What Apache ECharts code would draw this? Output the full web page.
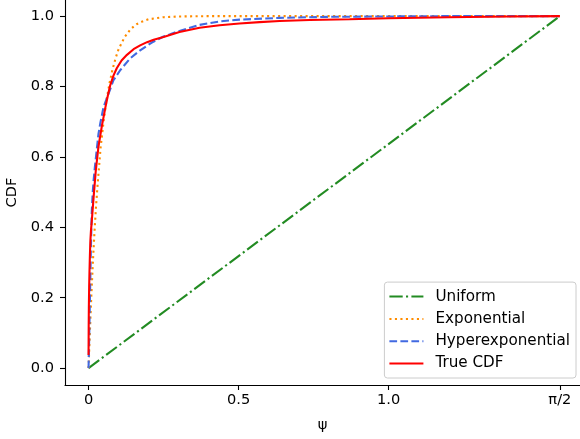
<!DOCTYPE html>
<html>
<head>
<meta charset="utf-8">
<script src="https://cdn.jsdelivr.net/npm/echarts@6/dist/echarts.min.js"></script>
<style>html,body{margin:0;padding:0;background:#fff;}#c{width:580px;height:439px;}</style>
</head>
<body>
<div id="c"></div>
<script>
var seriesNames = ['Uniform', 'Exponential', 'Hyperexponential', 'True CDF'];

var uniformX = [0, 1.5708];
var uniformY = [0, 1.0];

var expX = [0, 0.0025, 0.005, 0.0075, 0.01, 0.015, 0.02, 0.025, 0.03, 0.04, 0.05, 0.06, 0.07, 0.08, 0.09, 0.1, 0.12, 0.14, 0.16, 0.18, 0.2, 0.25, 0.3, 0.4, 0.6, 0.8, 1.0, 1.2, 1.4, 1.5708];
var expY = [0, 0.06, 0.115, 0.17, 0.22, 0.31, 0.39, 0.46, 0.52, 0.625, 0.70, 0.762, 0.81, 0.849, 0.88, 0.906, 0.940, 0.963, 0.977, 0.985, 0.991, 0.997, 0.999, 1.0, 1.0, 1.0, 1.0, 1.0, 1.0, 1.0];

var hypX = [0, 0.002, 0.004, 0.006, 0.008, 0.011, 0.014, 0.017, 0.021, 0.026, 0.033, 0.039, 0.05, 0.0667, 0.083, 0.106, 0.139, 0.172, 0.211, 0.25, 0.27, 0.303, 0.37, 0.437, 0.503, 0.637, 0.8, 1.0, 1.2, 1.5708];
var hypY = [0, 0.08, 0.17, 0.26, 0.35, 0.45, 0.50, 0.535, 0.57, 0.61, 0.665, 0.695, 0.742, 0.78, 0.818, 0.847, 0.88, 0.903, 0.925, 0.942, 0.948, 0.958, 0.975, 0.985, 0.99, 0.995, 0.998, 0.999, 1.0, 1.0];

var trueX = [0, 0.0005, 0.001, 0.002, 0.003, 0.0045, 0.006, 0.008, 0.011, 0.017, 0.024, 0.033, 0.044, 0.056, 0.064, 0.072, 0.083, 0.094, 0.11, 0.128, 0.15, 0.172, 0.195, 0.217, 0.25, 0.303, 0.37, 0.437, 0.503, 0.57, 0.637, 0.737, 0.87, 1.0, 1.2, 1.4, 1.5708];
var trueY = [0.037, 0.12, 0.17, 0.23, 0.27, 0.32, 0.36, 0.39, 0.42, 0.487, 0.56, 0.629, 0.686, 0.74, 0.773, 0.803, 0.831, 0.852, 0.874, 0.89, 0.906, 0.917, 0.926, 0.933, 0.941, 0.955, 0.967, 0.974, 0.979, 0.983, 0.986, 0.989, 0.991, 0.994, 0.997, 0.999, 1.0];

var xTickValues = [0, 0.5, 1.0, Math.PI / 2];
var xTickLabels = ['0', '0.5', '1.0', 'π/2'];
var yTickValues = [0, 0.2, 0.4, 0.6, 0.8, 1.0];
var yTickLabels = ['0.0', '0.2', '0.4', '0.6', '0.8', '1.0'];

function zip(xs, ys) { return xs.map(function (x, i) { return [x, ys[i]]; }); }

var FONT = 'DejaVu Sans';
var FS = 14.6;
var LFS = 15.2;

var chart = echarts.init(document.getElementById('c'), null, { renderer: 'canvas' });

function mkSeries(name, xs, ys, color, type) {
  return {
    name: name, type: 'line', data: zip(xs, ys),
    symbol: 'none', showSymbol: false, smooth: false, animation: false,
    lineStyle: { color: color, width: 2.1, type: type, cap: 'butt' },
    itemStyle: { color: color }
  };
}

function lookup(vals, labels) {
  return function (v) {
    for (var i = 0; i < vals.length; i++) if (Math.abs(v - vals[i]) < 1e-6) return labels[i];
    return '';
  };
}

chart.setOption({
  animation: false,
  grid: { left: 65, right: 0, top: 0, bottom: 54, containLabel: false, outerBoundsMode: 'none' },
  xAxis: {
    type: 'value', min: -0.0785, max: 1.638,
    name: 'ψ', nameLocation: 'middle', nameGap: 33,
    nameTextStyle: { fontFamily: FONT, fontSize: FS, color: '#000' },
    axisLine: { show: true, onZero: false, lineStyle: { color: '#000', width: 1.1 } },
    axisTick: { show: true, length: 5, lineStyle: { color: '#000', width: 1.1 }, customValues: xTickValues },
    axisLabel: {
      fontFamily: FONT, fontSize: FS, color: '#000', margin: 8,
      customValues: xTickValues, formatter: lookup(xTickValues, xTickLabels)
    },
    splitLine: { show: false }
  },
  yAxis: {
    type: 'value', min: -0.048, max: 1.0458,
    name: 'CDF', nameLocation: 'middle', nameGap: 44, nameRotate: 90,
    nameTextStyle: { fontFamily: FONT, fontSize: FS, color: '#000' },
    axisLine: { show: true, onZero: false, lineStyle: { color: '#000', width: 1.1 } },
    axisTick: { show: true, length: 5, lineStyle: { color: '#000', width: 1.1 }, customValues: yTickValues },
    axisLabel: {
      fontFamily: FONT, fontSize: FS, color: '#000', margin: 11,
      customValues: yTickValues, formatter: lookup(yTickValues, yTickLabels)
    },
    splitLine: { show: false }
  },
  legend: {
    data: seriesNames,
    orient: 'vertical', right: 4, bottom: 61,
    itemWidth: 34, itemHeight: 15, itemGap: 7.3,
    padding: [7, 6, 7, 4],
    itemStyle: { opacity: 0 },
    borderColor: '#cccccc', borderWidth: 1, borderRadius: 3,
    backgroundColor: 'rgba(255,255,255,0.8)',
    textStyle: { fontFamily: FONT, fontSize: LFS, color: '#000', padding: [0, 0, 0, 7] }
  },
  series: [
    mkSeries(seriesNames[0], uniformX, uniformY, '#228B22', [13.3, 3.3, 2.1, 3.3]),
    mkSeries(seriesNames[1], expX, expY, '#FF8C00', [2.1, 3.4]),
    mkSeries(seriesNames[2], hypX, hypY, '#4169E1', [7.7, 3.3]),
    mkSeries(seriesNames[3], trueX, trueY, '#FF0000', 'solid')
  ]
});
</script>
</body>
</html>
